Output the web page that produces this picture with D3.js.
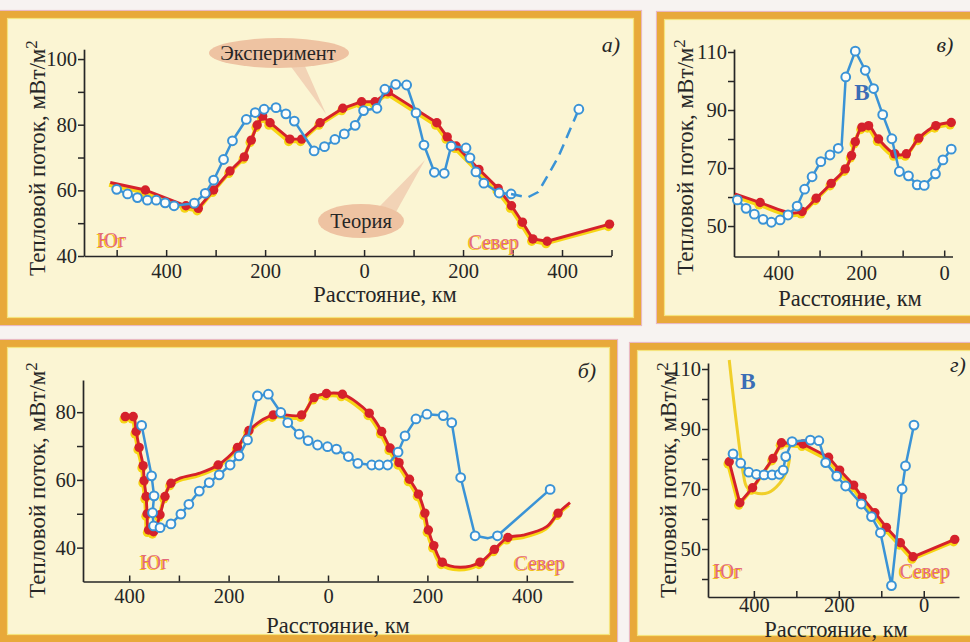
<!DOCTYPE html>
<html><head><meta charset="utf-8">
<script src="https://cdn.jsdelivr.net/npm/d3@7"></script>
<style>
body{margin:0;background:#f7f3f1;}
svg{display:block;}
</style>
</head><body>
<svg id="c" width="970" height="642" font-family="Liberation Serif"></svg>
<script>
// ---------- DATA (distance km, heat flow mW/m2; third value 0 = unmarked vertex) ----------
// Panel а) south negative, north positive
const expA = [[-500,60.3],[-478,58.9],[-458,57.8],[-438,57.0],[-420,57.0],[-402,56.2],[-384,55.3],[-343,56.1],[-321,59.1],[-304,63.1],[-284,69.4],[-266,75.1],[-238,81.6],[-220,83.7],[-202,84.7],[-178,85.2],[-158,83.3],[-141,81.1],[-101,72],[-80,73.3],[-59,75.5],[-40,77.2],[-18,79.8],[-1,84.3],[26,85],[42,90.8],[64,92.3],[86,92.1],[105,83.6],[121,73.8],[142,65.5],[162,65.2],[176,73.5],[206,72.9],[214,69.9],[226,65.6],[242,62.2],[273,59.2],[297,58.9]];
const expA_dashed = [[297,58.9,0],[330,57.8,0],[352,59.5,0],[392,70,0],[434,84.7]];
const theoryA = [[-513,62.4,0],[-442,60.1],[-360,55.3],[-335,54.5],[-304,60.1],[-271,65.9],[-242,70.2],[-228,75.3],[-216,79.9],[-205,82.6],[-190,80.6],[-150,75.6],[-126,75.6],[-89,80.6],[-43,85],[-5,87],[22,87],[49,90],[147,80.6],[168,76.3],[186,73.5],[232,66.4],[271,60.6],[298,55.3],[320,50.3],[341,45.2],[370,44.5],[496,49.7]];
const ticksA_x = [-500,-400,-300,-200,-100,0,100,200,300,400,500];
const labelsA_x = [-400,-200,0,200,400];
const ticksA_y = [40,50,60,70,80,90,100];
const labelsA_y = [40,60,80,100];

// Panel в) distance decreasing to the right
const expV = [[498,59],[477,56.1],[457,54.1],[436,52.3],[416,51.3],[395,52.1],[376,53.8],[354,56.9],[336,62.7],[318,67],[297,72.2],[275,74.5],[255,76.8],[247,77.5,0],[237,101.4],[214,110.3],[190,103.7],[170,97.4],[148,88.4],[126,80.1],[108,68.8],[86,67.3],[65,64.2],[48,64],[21,68],[3,72.8],[-17,76.5]];
const theoryV = [[504,61.1,0],[443,58.1],[372,54.6,0],[342,55],[308,59.6],[272,64.7],[238,69.7],[223,74.3],[214,79.1],[198,84.1],[182,84.6],[158,80],[119,74.9],[91,74.9],[61,80.3],[20,84.6],[-17,85.7]];
const ticksV_x = [400,300,200,100,0];
const labelsV_x = [400,200,0];
const ticksV_y = [50,60,70,80,90,100,110];
const labelsV_y = [50,70,90,110];

// Panel б) south negative, north positive
const expB = [[-375,76.1],[-355,61.2],[-350,55.3],[-353,50.3],[-351,46.4],[-338,45.9],[-316,47],[-296,49.9],[-280,52.8],[-259,56.7],[-239,59.2],[-219,61.5],[-197,64.4],[-179,67.1],[-162,71.8],[-142,84.8],[-120,85.3],[-95,79.9],[-81,76.9],[-58,73.5],[-40,71.6],[-21,70.3],[-1,69.8],[17,69.1],[41,66.9],[60,64.9],[88,64.4],[103,64.4],[120,64.4],[141,68.2],[155,73],[177,78],[199,79.4],[232,79],[249,76.9],[267,60.7],[296,43.5],[322,42.8,0],[341,43.5],[447,57.2]];
const theoryB = [[-408,78.7],[-392,78.7],[-386,74.3],[-380,69.6],[-372,64.2],[-370,59.8],[-366,55.1],[-364,50],[-361,45.2],[-351,44.7],[-338,49.7],[-328,55.1],[-316,59],[-298,60.5,0],[-258,62,0],[-221,64.4],[-182,69.6],[-159,74.6],[-110,79.2],[-53,79.2],[-28,84.3],[-3,85.5],[29,85.3],[83,79.7],[108,74.3],[125,69.4],[143,65.1],[164,60.2],[182,55.8],[195,50.2],[202,45.2],[213,40.6],[230,35.7],[266,34.2,0],[306,35.7],[335,39.5],[362,43],[393,43.7,0],[440,46.2,0],[463,50.2],[487,53.3,0]];
const ticksB_x = [-400,-300,-200,-100,0,100,200,300,400];
const labelsB_x = [-400,-200,0,200,400];
const ticksB_y = [40,50,60,70,80];
const labelsB_y = [40,60,80];

// Panel г) distance decreasing to the right
const expG = [[449,81.7],[431,78.6],[412,75.6],[394,74.9],[376,74.7],[357,74.7],[340,74.9],[331,76.3],[325,80.8],[310,85.8],[267,86.3],[247,86.1],[231,78.8],[205,74.3],[184,71],[147,65],[123,60.8],[102,55.4],[76,37.8],[51,70],[43,77.7],[23,91.3]];
const theoryG = [[458,79.1],[433,65.4],[403,70.4],[355,80.2],[335,85.4],[284,85],[224,80.6],[198,76.3],[165,71.3],[145,67.2],[115,62.1],[88,57.2],[55,52.1],[25,47.4],[-73,53.2]];
const modelG = [[458,113],[441,91.9],[425,75.2],[417,70.8],[398,68.8],[366,68.8],[339,71.9],[323,75.8],[316,80]];
const ticksG_x = [400,300,200,100,0];
const labelsG_x = [400,200,0];
const ticksG_y = [40,50,60,70,80,90,100,110];
const labelsG_y = [50,70,90,110];

const yTitle = "Тепловой поток, мВт/м";
const xTitle = "Расстояние, км";

// ---------- DRAWING ----------
const FONT = "Liberation Serif";
const svg = d3.select("#c");
const ORANGE = "#e8a93a", CREAM = "#fbf5d3", RED = "#d5212b", YEL = "#f6d514", BLUE = "#3a93d6", INK = "#262626";

svg.append("rect").attr("width",970).attr("height",642).attr("fill","#f7f3f1");

function frame(x, y, w, h){
  const g = svg.append("g");
  g.append("rect").attr("x",x).attr("y",y).attr("width",w).attr("height",h).attr("fill",CREAM);
  g.append("rect").attr("x",x-0.5).attr("y",y-0.5).attr("width",w+1).attr("height",h+1)
    .attr("fill","none").attr("stroke","#e9b9c2").attr("stroke-width",1.2);
  g.append("rect").attr("x",x+3.5).attr("y",y+3.5).attr("width",w-7).attr("height",h-7)
    .attr("fill","none").attr("stroke",ORANGE).attr("stroke-width",7);
  g.append("rect").attr("x",x+7.5).attr("y",y+7.5).attr("width",w-15).attr("height",h-15)
    .attr("fill","none").attr("stroke","#f5e37c").attr("stroke-width",1.2);
}
frame(0, 11, 641, 314);
frame(657, 12, 330, 311);
frame(0, 340, 617, 302);
frame(630, 343, 350, 300);

function marked(d){ return d[2] !== 0; }

function drawTheory(g, x, y, data, curve){
  const line = d3.line().x(d=>x(d[0])).y(d=>y(d[1])).curve(curve);
  const sh = g.append("g").attr("transform","translate(-1.2,2.4)");
  sh.append("path").attr("d", line(data)).attr("fill","none").attr("stroke",YEL).attr("stroke-width",3.6).attr("stroke-linejoin","round");
  sh.selectAll("circle").data(data.filter(marked)).join("circle")
    .attr("cx",d=>x(d[0])).attr("cy",d=>y(d[1])).attr("r",4.6).attr("fill",YEL);
  g.append("path").attr("d", line(data)).attr("fill","none").attr("stroke",RED).attr("stroke-width",2.9).attr("stroke-linejoin","round");
  g.selectAll("circle.rd").data(data.filter(marked)).join("circle").attr("class","rd")
    .attr("cx",d=>x(d[0])).attr("cy",d=>y(d[1])).attr("r",4.7).attr("fill",RED);
}
function drawExp(g, x, y, data, dashed){
  const line = d3.line().x(d=>x(d[0])).y(d=>y(d[1]));
  g.append("path").attr("d", line(data)).attr("fill","none").attr("stroke",BLUE).attr("stroke-width",2.5)
    .attr("stroke-dasharray", dashed ? "11,7" : null).attr("stroke-linejoin","round");
  g.selectAll("circle.bl"+(dashed?"d":"")).data(data.filter(marked)).join("circle").attr("class","bl"+(dashed?"d":""))
    .attr("cx",d=>x(d[0])).attr("cy",d=>y(d[1])).attr("r",4.4).attr("fill","#fdfdf8").attr("stroke",BLUE).attr("stroke-width",2);
}
function txt(g, s, x, y, size, fill){
  return g.append("text").attr("x",x).attr("y",y).attr("text-anchor","middle")
    .attr("font-family",FONT).attr("font-size",size).attr("fill",fill || INK).text(s);
}
function twoTone(g, s, cx, by, size){
  txt(g, s, cx-1.3, by+1.3, size, "#f3c21a");
  txt(g, s, cx, by, size, "#e46a7c");
}

function panel(c){
  const x = d3.scaleLinear().domain(c.xd).range(c.xr);
  const y = d3.scaleLinear().domain(c.yd).range(c.yr);
  const g = svg.append("g");
  const xa = d3.axisBottom(x).tickValues(c.xt).tickFormat(d => c.xl.includes(d) ? Math.abs(d) : "")
    .tickSizeInner(-6).tickSizeOuter(0).tickPadding(c.xpad);
  const gx = g.append("g").attr("transform",`translate(0,${c.yr[0]})`).call(xa);
  const ya = d3.axisLeft(y).tickValues(c.yt).tickFormat(d => c.yl.includes(d) ? d : "")
    .tickSizeInner(6).tickSizeOuter(0).tickPadding(1);
  const gy = g.append("g").attr("transform",`translate(${c.xr[0]},0)`).call(ya);
  [gx, gy].forEach(a => {
    a.attr("font-family", FONT);
    a.select(".domain").attr("stroke",INK).attr("stroke-width",1.7);
    a.selectAll(".tick line").attr("stroke",INK).attr("stroke-width",1.5);
    a.selectAll("text").attr("font-family",FONT).attr("font-size",20.5).attr("fill",INK);
  });
  // titles
  txt(g, xTitle, c.xtitle[0], c.xtitle[1], 22.5);
  const t = g.append("text").attr("transform",`translate(${c.ytitle[0]},${c.ytitle[1]}) rotate(-90)`)
    .attr("text-anchor","middle").attr("font-family",FONT).attr("font-size",23).attr("fill",INK);
  t.append("tspan").text(yTitle);
  t.append("tspan").attr("dy",-8).attr("font-size",17).text("2");
  txt(g, c.tagText, c.tag[0], c.tag[1], 22).attr("font-style","italic");
  c.draw(g, x, y);
}

// ---- а)
panel({
  xd:[-566,500], xr:[84,611.5], yd:[40,103], yr:[256,49.2],
  xt:ticksA_x, xl:labelsA_x, yt:ticksA_y, yl:labelsA_y, xpad:7,
  xtitle:[385,302], ytitle:[45,158], tag:[611,52], tagText:"а)",
  draw:(g,x,y)=>{
    // callouts
    g.append("path").attr("d","M289,64 L304,64 L326,114 Z").attr("fill","#f0cdb0").attr("opacity",0.85);
    g.append("ellipse").attr("cx",279).attr("cy",53).attr("rx",70).attr("ry",15).attr("fill","#eec3a2");
    txt(g, "Эксперимент", 278, 60, 20.5);
    g.append("path").attr("d","M378,208 L396,212 L425,160 Z").attr("fill","#f0cdb0").attr("opacity",0.85);
    g.append("ellipse").attr("cx",361).attr("cy",221).attr("rx",43).attr("ry",17).attr("fill","#eec3a2");
    txt(g, "Теория", 361, 228, 20.5);
    drawTheory(g,x,y,theoryA,d3.curveLinear);
    drawExp(g,x,y,expA,false);
    drawExp(g,x,y,expA_dashed,true);
    twoTone(g,"Юг",112,247,20);
    twoTone(g,"Север",494,249,20);
  }
});

// ---- в)
panel({
  xd:[506,-20], xr:[734,952.5], yd:[39.5,111], yr:[256.5,49.1],
  xt:ticksV_x, xl:labelsV_x, yt:ticksV_y, yl:labelsV_y, xpad:9,
  xtitle:[850,306], ytitle:[693,157], tag:[945,52], tagText:"в)",
  draw:(g,x,y)=>{
    drawTheory(g,x,y,theoryV,d3.curveCatmullRom.alpha(0.5));
    drawExp(g,x,y,expV,false);
    txt(g, "В", 862, 100, 23, "#3b6eb6").attr("font-weight","bold");
  }
});

// ---- б)
panel({
  xd:[-493,493], xr:[83,573], yd:[30,89.5], yr:[581.5,380],
  xt:ticksB_x, xl:labelsB_x, yt:ticksB_y, yl:labelsB_y, xpad:7,
  xtitle:[338,633], ytitle:[45,480], tag:[587,378], tagText:"б)",
  draw:(g,x,y)=>{
    drawTheory(g,x,y,theoryB,d3.curveCatmullRom.alpha(0.5));
    drawExp(g,x,y,expB,false);
    twoTone(g,"Юг",155,569,20);
    twoTone(g,"Север",540,570,20);
  }
});

// ---- г)
panel({
  xd:[508,-83], xr:[708,959], yd:[34,112], yr:[597,363],
  xt:ticksG_x, xl:labelsG_x, yt:ticksG_y, yl:labelsG_y, xpad:0,
  xtitle:[836,637], ytitle:[676,480], tag:[958,372], tagText:"г)",
  draw:(g,x,y)=>{
    const ml = d3.line().x(d=>x(d[0])).y(d=>y(d[1])).curve(d3.curveCatmullRom.alpha(0.5));
    g.append("path").attr("d",ml(modelG)).attr("fill","none").attr("stroke","#f0cf2a").attr("stroke-width",3);
    drawTheory(g,x,y,theoryG,d3.curveLinear);
    drawExp(g,x,y,expG,false);
    txt(g, "В", 748, 389, 23, "#3b6eb6").attr("font-weight","bold");
    twoTone(g,"Юг",728,578,20);
    twoTone(g,"Север",925,578,20);
  }
});
</script>
</body></html>
